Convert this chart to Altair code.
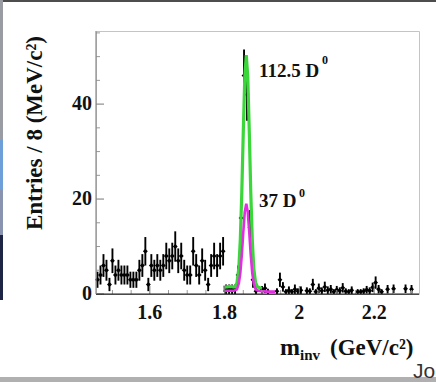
import altair as alt
import pandas as pd

# ---------------- data ----------------
BIN_LO = 1.456
BIN_W = 0.008

COUNTS = [3, 4, 6, 5, 2, 7, 4, 5, 4, 4,
          4, 3, 3, 3, 5, 6, 9, 2, 6, 5,
          6, 5, 6, 8, 7, 8, 10, 7, 8, 5,
          4, 4, 9, 6, 4, 7, 5, 2, 6, 8,
          6, 8, 9, 1, 1, 1, 1, 4, 16, 46,
          42, 14, 3, 0.6, None, 0.9, 1.2, 0.5, None, None,
          0.6, 3.0, 1.5, 0.5, 0.8, 0.5, 1.0, 0.6, 0.8, None,
          0.7, 0.6, 2.0, 0.5, 1.2, 0.7, 1.5, 0.8, 1.0, 0.5,
          0.9, 0.7, 1.3, 0.6, 0.5, 0.8, None, 0.5, 0.5, 0.6,
          0.9, 0.7, 1.4, 2.4, 1.0, 0.5, None, 1.0, None, 1.1,
          None, None, None, 1.1, None, 1.0, None, None]

ERRS = [1.7, 2, 2.4, 2.2, 1.4, 2.6, 2, 2.2, 2, 2,
        2, 1.7, 1.7, 1.7, 2.2, 2.4, 3, 1.4, 2.4, 2.2,
        2.4, 2.2, 2.4, 2.8, 2.6, 2.8, 3.2, 2.6, 2.8, 2.2,
        2, 2, 3, 2.4, 2, 2.6, 2.2, 1.4, 2.4, 2.8,
        2.4, 2.8, 3, 1, 1, 1, 1, 2, 4, 5.5,
        5.5, 3.7, 1.7, 0.6, 0, 0.8, 1, 0.6, 0, 0,
        0.6, 1.5, 1, 0.5, 0.8, 0.5, 1, 0.6, 0.8, 0,
        0.7, 0.6, 1.2, 0.5, 1, 0.7, 1.1, 0.8, 0.9, 0.5,
        0.8, 0.7, 1, 0.6, 0.5, 0.8, 0, 0.5, 0.5, 0.6,
        0.8, 0.7, 1, 1.3, 0.9, 0.5, 0, 0.9, 0, 0.9,
        0, 0, 0, 0.9, 0, 0.9, 0, 0]

GREEN_X = [1.796, 1.805, 1.815, 1.822, 1.828, 1.833, 1.838, 1.842, 1.846, 1.850,
           1.854, 1.858, 1.862, 1.866, 1.870, 1.874, 1.878, 1.883, 1.888, 1.895, 1.900]
GREEN_Y = [1.4, 1.5, 1.6, 1.5, 1.5, 2.3, 5.4, 11.4, 21.4, 34.3,
           45.7, 50.3, 45.7, 34.3, 21.4, 11.4, 5.4, 2.3, 1.5, 1.3, 1.2]

MAG_X = [1.796, 1.805, 1.815, 1.825, 1.833, 1.838, 1.842, 1.846, 1.850, 1.854,
         1.858, 1.862, 1.866, 1.870, 1.874, 1.878, 1.883, 1.890, 1.900, 1.915, 1.935]
MAG_Y = [0.7, 0.7, 0.7, 0.7, 1.0, 2.2, 4.4, 8.2, 13.0, 17.3,
         19.0, 17.3, 13.0, 8.2, 4.4, 2.2, 1.0, 0.7, 0.6, 0.5, 0.5]

X_MAJOR = [1.6, 1.8, 2.0, 2.2]
X_LABELS = ["1.6", "1.8", "2", "2.2"]
X_MINOR = [1.5, 1.55, 1.65, 1.7, 1.75, 1.85, 1.9, 1.95, 2.05, 2.1, 2.15, 2.25, 2.3]
Y_MAJOR = [0, 20, 40]
Y_LABELS = ["0", "20", "40"]
Y_MINOR = [5, 10, 15, 25, 30, 35, 45, 50, 55]

X_DOMAIN = [1.456, 2.32]
Y_DOMAIN = [0, 55.4]

W, H = 323, 263
SERIF = "Liberation Serif"

# ---------------- tables ----------------
rows = []
for i, (c, e) in enumerate(zip(COUNTS, ERRS)):
    if c is None:
        continue
    ctr = BIN_LO + BIN_W * (i + 0.5)
    rows.append({"m": ctr, "n": c, "lo": max(c - e, 0), "hi": c + e})
hist = pd.DataFrame(rows)
green = pd.DataFrame({"m": GREEN_X, "n": GREEN_Y})
mag = pd.DataFrame({"m": MAG_X, "n": MAG_Y})

xs = alt.Scale(domain=X_DOMAIN, nice=False, zero=False)
ys = alt.Scale(domain=Y_DOMAIN, nice=False, zero=False)

errbars = alt.Chart(hist).mark_rule(color="black", strokeWidth=1.9).encode(
    x=alt.X("m:Q", scale=xs, axis=None),
    y=alt.Y("lo:Q", scale=ys, axis=None),
    y2="hi:Q",
)
points = alt.Chart(hist).mark_point(filled=True, color="black", size=24, opacity=1,
                                    shape="diamond").encode(
    x=alt.X("m:Q", scale=xs, axis=None),
    y=alt.Y("n:Q", scale=ys, axis=None),
)
green_line = alt.Chart(green).mark_line(color="#3ad63a", strokeWidth=3.2).encode(
    x=alt.X("m:Q", scale=xs, axis=None),
    y=alt.Y("n:Q", scale=ys, axis=None),
)
mag_line = alt.Chart(mag).mark_line(color="#e02ee0", strokeWidth=2.6).encode(
    x=alt.X("m:Q", scale=xs, axis=None),
    y=alt.Y("n:Q", scale=ys, axis=None),
)

# inward ticks
ymaj = alt.Chart(pd.DataFrame({"v": Y_MAJOR})).mark_rule(color="#777", strokeWidth=1).encode(
    y=alt.Y("v:Q", scale=ys, axis=None), x=alt.value(0), x2=alt.value(8))
ymin = alt.Chart(pd.DataFrame({"v": Y_MINOR})).mark_rule(color="#999", strokeWidth=1).encode(
    y=alt.Y("v:Q", scale=ys, axis=None), x=alt.value(0), x2=alt.value(4))
xmaj = alt.Chart(pd.DataFrame({"v": X_MAJOR})).mark_rule(color="#777", strokeWidth=1).encode(
    x=alt.X("v:Q", scale=xs, axis=None), y=alt.value(H), y2=alt.value(H - 8))
xmin = alt.Chart(pd.DataFrame({"v": X_MINOR})).mark_rule(color="#999", strokeWidth=1).encode(
    x=alt.X("v:Q", scale=xs, axis=None), y=alt.value(H), y2=alt.value(H - 4))

# tick labels
xlab = alt.Chart(pd.DataFrame({"v": X_MAJOR, "t": X_LABELS})).mark_text(
    font=SERIF, fontWeight="bold", fontSize=20, color="#111", baseline="top", align="center"
).encode(x=alt.X("v:Q", scale=xs, axis=None), y=alt.value(H + 9), text="t:N")
ylab = alt.Chart(pd.DataFrame({"v": Y_MAJOR, "t": Y_LABELS})).mark_text(
    font=SERIF, fontWeight="bold", fontSize=20, color="#111", baseline="middle", align="right"
).encode(y=alt.Y("v:Q", scale=ys, axis=None), x=alt.value(-4), text="t:N")

one = pd.DataFrame({"k": [0]})


def label(text, x, y, size, font=SERIF, weight="bold", color="#111", angle=0,
          align="left", baseline="alphabetic"):
    return alt.Chart(one).mark_text(
        text=text, font=font, fontWeight=weight, fontSize=size, color=color,
        angle=angle, align=align, baseline=baseline,
    ).encode(x=alt.value(x), y=alt.value(y))


def band(x, x2, y, y2, color):
    return alt.Chart(one).mark_rect(color=color).encode(
        x=alt.value(x), x2=alt.value(x2), y=alt.value(y), y2=alt.value(y2))


# axis lines
frame = [
    band(0, W, H - 0.6, H + 0.8, "#222222"),
    band(-0.6, 0.6, 0, H, "#8a8a8a"),
]

texts = [
    label("112.5 D", 163, 46, 19),
    label("0", 226, 33, 12),
    label("37 D", 163, 176, 19),
    label("0", 203, 166, 12),
    label("Entries / 8 (MeV/c²)", -61, 102, 23, angle=270, align="center", baseline="middle"),
    label("m", 184, 324, 24),
    label("inv", 204, 329, 15),
    label("(GeV/c²)", 234, 324, 23),
    label("Jo", 317, 347, 21, font="Liberation Sans", weight="normal", color="#333"),
]

# slide-screenshot edges
edges = [
    band(-96, 340, -31, -29, "#4d4d4d"),
    band(-96, -93, -31, 109, "#9a9ca4"),
    band(-96, -93, 109, 159, "#6f9fd8"),
    band(-96, -93, 159, 204, "#8a93b0"),
    band(-96, -93, 204, 269, "#1e2544"),
    band(-96, 340, 346, 351, "#b0b0b0"),
]

chart = alt.layer(
    errbars, points, green_line, mag_line, ymin, ymaj, xmin, xmaj, xlab, ylab,
    *frame, *edges, *texts
).properties(
    width=W, height=H,
    padding={"left": 96, "top": 31, "right": 17, "bottom": 88},
    autosize=alt.AutoSizeParams(type="none"),
    background="white",
).configure_view(stroke="#c4c4c4", strokeWidth=1)

chart.save("out.html", embed_options={"renderer": "svg", "actions": False})
